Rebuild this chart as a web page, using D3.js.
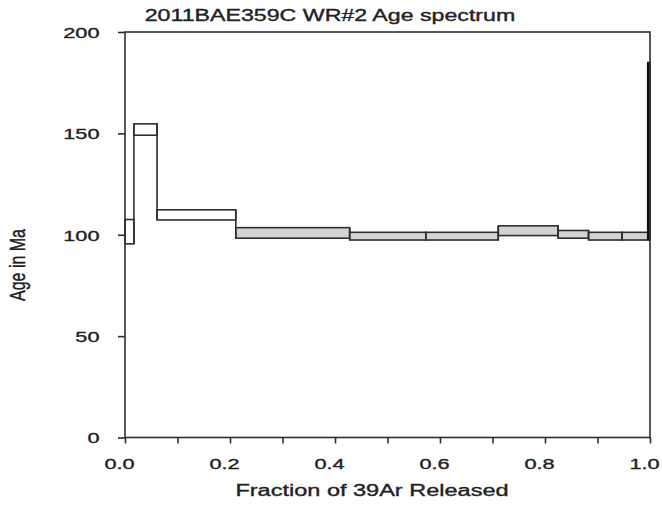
<!DOCTYPE html>
<html>
<head>
<meta charset="utf-8">
<script src="https://cdn.jsdelivr.net/npm/d3@7"></script>
<style>
  body { margin: 0; background: #fff; }
  text { font-family: "Liberation Sans", Arial, sans-serif; fill: #222; stroke: #222; stroke-width: 0.35px; }
</style>
</head>
<body>
<script>

// cumulative fraction of 39Ar released at the edge of each step
const fractionEdges = [0, 0.017, 0.061, 0.211, 0.428, 0.573, 0.711, 0.825, 0.883, 0.947, 0.996, 1.0];
// apparent age of each step (Ma) and its error bar half-height
const stepAges = [101.5, 151.9, 109.8, 100.9, 99.3, 99.3, 102.0, 100.2, 99.3, 99.3, 141.2];
const stepErrors = [6.0, 2.8, 2.5, 2.6, 1.9, 1.9, 2.4, 1.9, 1.9, 1.9, 43.8];
const inPlateau = [false, false, false, true, true, true, true, true, true, true, false];

const xTickValues = [0, 0.1, 0.2, 0.3, 0.4, 0.5, 0.6, 0.7, 0.8, 0.9, 1.0];
const xLabelValues = [0, 0.2, 0.4, 0.6, 0.8, 1.0];
const yTickValues = [0, 50, 100, 150, 200];

const WIDTH = 662;
const HEIGHT = 508;

const margin = {
  top: 32,
  bottom: 70.5,
  right: 12,
  left: 125,
};

// the reference is stretched sideways, text too
const SX = 1.45;
const INK = '#2e2e2e';

const innerW = WIDTH - margin.left - margin.right;
const innerH = HEIGHT - margin.top - margin.bottom;

const svg = d3.select('body')
  .append('svg')
  .attr('width', WIDTH)
  .attr('height', HEIGHT);

const plot = svg.append('g')
  .attr('transform', `translate(${margin.left} ${margin.top})`);

const x = d3.scaleLinear().domain([0, 1]).range([0, innerW]);
const y = d3.scaleLinear().domain([0, 200]).range([innerH, 0]);

const steps = stepAges.map((age, i) => ({
  x0: fractionEdges[i],
  x1: fractionEdges[i + 1],
  lo: age - stepErrors[i],
  hi: age + stepErrors[i],
  plateau: inPlateau[i],
}));

// vertical joins between neighbouring steps
const joins = steps.slice(1).map((s, i) => ({
  f: s.x0,
  lo: Math.min(s.lo, steps[i].lo),
  hi: Math.max(s.hi, steps[i].hi),
}));

plot.selectAll('rect.step')
  .data(steps)
  .enter()
  .append('rect')
  .attr('class', 'step')
  .attr('x', d => x(d.x0))
  .attr('width', d => x(d.x1) - x(d.x0))
  .attr('y', d => y(d.hi))
  .attr('height', d => y(d.lo) - y(d.hi))
  .attr('fill', d => d.plateau ? '#d3d3d3' : '#fff')
  .attr('stroke', INK)
  .attr('stroke-width', 1.6);

plot.selectAll('line.join')
  .data(joins)
  .enter()
  .append('line')
  .attr('class', 'join')
  .attr('x1', d => x(d.f))
  .attr('x2', d => x(d.f))
  .attr('y1', d => y(d.hi))
  .attr('y2', d => y(d.lo))
  .attr('stroke', INK)
  .attr('stroke-width', 1.6);

// last tiny step drawn solid
const last = steps[steps.length - 1];
plot.append('rect')
  .attr('x', x(last.x0) - 1)
  .attr('width', x(last.x1) - x(last.x0) + 1)
  .attr('y', y(last.hi))
  .attr('height', y(last.lo) - y(last.hi))
  .attr('fill', '#111');

// frame
plot.append('rect')
  .attr('width', innerW)
  .attr('height', innerH)
  .attr('fill', 'none')
  .attr('stroke', INK)
  .attr('stroke-width', 1.6);

const ejeX = d3.axisBottom(x)
  .tickValues(xTickValues)
  .tickSize(6)
  .tickFormat(d => xLabelValues.some(v => Math.abs(v - d) < 1e-9) ? d3.format('.1f')(d) : '');

const gx = plot.append('g')
  .attr('transform', `translate(0, ${innerH})`)
  .call(ejeX);

const ejeY = d3.axisLeft(y)
  .tickValues(yTickValues)
  .tickSize(7)
  .tickFormat(d3.format('d'));

const gy = plot.append('g').call(ejeY);

[gx, gy].forEach(g => {
  g.select('.domain').remove();
  g.selectAll('.tick line').attr('stroke', INK).attr('stroke-width', 1.6);
  g.selectAll('.tick text')
    .attr('font-size', 15)
    .attr('fill', '#222')
    .attr('font-family', '"Liberation Sans", Arial, sans-serif')
    .attr('transform', `scale(${SX},1)`);
});

gx.selectAll('.tick text')
  .attr('x', -6 / SX)
  .attr('y', 32)
  .attr('dy', 0);

gy.selectAll('.tick text')
  .attr('x', -25.5 / SX)
  .attr('dy', '0.35em');

// titles
svg.append('text')
  .attr('transform', `translate(330, 20.5) scale(${SX},1)`)
  .attr('text-anchor', 'middle')
  .attr('font-size', 16)
  .text('2011BAE359C WR#2 Age spectrum');

svg.append('text')
  .attr('transform', `translate(372, 496) scale(1.47,1)`)
  .attr('text-anchor', 'middle')
  .attr('font-size', 16)
  .text('Fraction of 39Ar Released');

svg.append('text')
  .attr('transform', `translate(25, 265) scale(1.35,1) rotate(-90)`)
  .attr('text-anchor', 'middle')
  .attr('font-size', 16)
  .text('Age in Ma');

</script>
</body>
</html>
